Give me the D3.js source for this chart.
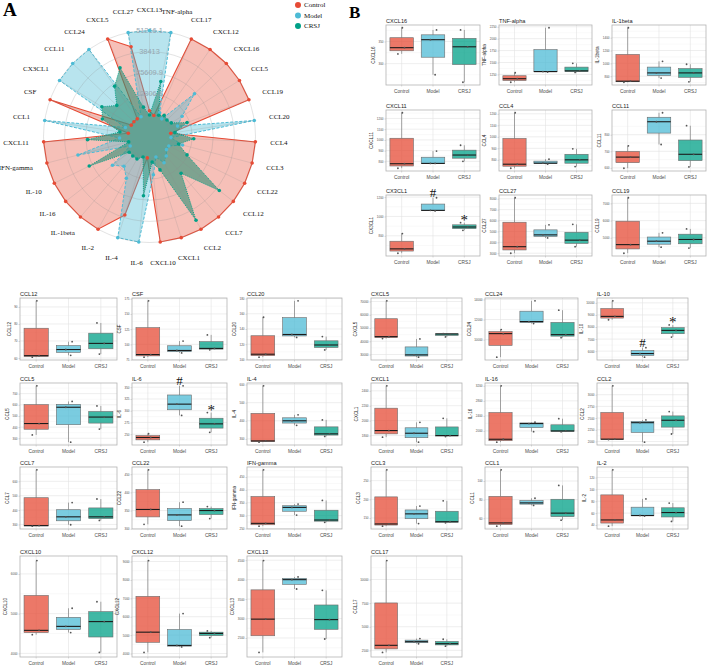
<!DOCTYPE html>
<html>
<head>
<meta charset="utf-8">
<script src="https://cdn.jsdelivr.net/npm/d3@7"></script>
<style>
  body { margin: 0; background: #fff; }
  svg { display: block; }
</style>
</head>
<body>
<svg id="fig" width="708" height="667"></svg>
<script>
// groups and colours (npg palette)
const groups = ['Control', 'Model', 'CRSJ']
const groupColors = ['#E64B35', '#4DBBD5', '#00A087']

// ---- panel A: radar, values scaled 0..1 per axis ----
const radarAxes = ['CXCL13', 'TNF-alpha', 'CCL17', 'CXCL12', 'CXCL16', 'CCL5', 'CCL19', 'CCL20', 'CCL4', 'CCL3',
  'CCL22', 'CCL12', 'CCL7', 'CCL2', 'CXCL1', 'CXCL10', 'IL-6', 'IL-4', 'IL-2', 'IL-1beta', 'IL-16', 'IL-10',
  'IFN-gamma', 'CXCL11', 'CCL1', 'CSF', 'CX3CL1', 'CCL11', 'CCL24', 'CXCL5', 'CCL27']
const radarControl = [0.05, 0, 1, 1, 1, 1, 1, 0, 1, 1, 1, 1, 1, 1, 1, 1, 0, 0.72, 1, 1, 1, 1, 1, 1, 0, 1, 0, 0, 0, 1, 0.83]
const radarModel = [1, 1, 0.05, 0, 0.48, 0.2, 0.1, 1, 0, 0.15, 0, 0, 0.05, 0.1, 0, 0.2, 1, 1, 0.31, 0.21, 0.3, 0, 0.62, 0.1, 1, 0.05, 1, 1, 1, 0, 1]
const radarCRSJ = [0, 0.41, 0.02, 0.05, 0.03, 0.05, 0.22, 0.05, 0.27, 0.1, 0.24, 0.79, 0.32, 0.88, 0.16, 0.05, 0.45, 0, 0.05, 0.05, 0.05, 0.54, 0, 0.48, 0.1, 0.34, 0.41, 0.28, 0.47, 0.63, 0.1]
const radarRingLabels = ['12806.8', '25609.9', '38413', '51216.1']

// ---- boxplots: three replicate values per group ----
const panelNames = ['CXCL16', 'TNF-alpha', 'IL-1beta', 'CXCL11', 'CCL4', 'CCL11', 'CX3CL1', 'CCL27', 'CCL19',
  'CCL12', 'CSF', 'CCL20', 'CXCL5', 'CCL24', 'IL-10',
  'CCL5', 'IL-6', 'IL-4', 'CXCL1', 'IL-16', 'CCL2',
  'CCL7', 'CCL22', 'IFN-gamma', 'CCL3', 'CCL1', 'IL-2',
  'CXCL10', 'CXCL12', 'CXCL13', 'CCL17']

const panelTicks = [
  [300, 350], [1250, 1500, 1750, 2000, 2250], [800, 1000, 1200, 1400],
  [800, 900, 1000, 1100, 1200], [800, 900, 1000, 1100, 1200], [600, 700, 800],
  [800, 1000, 1200], [3000, 4000, 5000, 6000, 7000, 8000], [5000, 6000, 7000],
  [60, 70, 80, 90], [75, 100, 125, 150, 175], [100, 120, 140, 160, 180],
  [30000, 40000, 50000, 60000, 70000], [10000, 12000, 14000], [6000, 7000, 8000, 9000, 10000],
  [300, 400, 500, 600, 700, 800], [250, 275, 300, 325, 350], [300, 400, 500, 600],
  [1800, 2000, 2200, 2400], [2000, 2400, 2800, 3200], [2000, 2250, 2500, 2750, 3000],
  [300, 400, 500, 600], [300, 350, 400, 450], [250, 300, 350, 400, 450],
  [150, 200, 250], [60, 80, 100], [40, 60, 80, 100, 120],
  [4000, 5000, 6000], [4000, 5000, 6000, 7000, 8000, 9000], [2500, 3000, 3500, 4000, 4500], [2500, 5000, 7500, 10000]
]

const valuesControl = [
  [322, 336, 381], [1085, 1160, 1285], [705, 722, 1555], [736, 778, 1253], [727, 762, 1209], [598, 665, 733],
  [620, 665, 823], [3000, 3600, 8090], [4100, 4600, 7326],
  [60.5, 61.4, 93.6], [79, 83.3, 171.5], [103, 106.9, 155.4], [42000, 43500, 70500], [8260, 10600, 11000], [8600, 8880, 10170],
  [330, 432, 770], [233, 243, 251], [282, 289, 593], [1778, 1867, 2467], [1700, 1778, 3200], [2040, 2050, 3190],
  [288, 292, 680], [312, 353, 462], [259, 270, 478], [128, 134, 279], [51.5, 55, 112], [38, 48.5, 133],
  [4470, 4580, 6335], [4060, 5160, 9050], [2130, 2985, 4490], [2286, 3036, 12000]
]
const valuesModel = [
  [275, 354, 376], [1300, 1310, 2230], [770, 851, 1032], [781, 781, 896], [762, 771, 806], [741, 878, 932],
  [1057, 1063, 1193], [4400, 4685, 5605], [4450, 4800, 5286],
  [61.6, 65, 69.6], [86, 90, 105.5], [129, 132.8, 177], [28000, 29750, 41750], [11600, 11800, 13860], [5500, 5800, 6290],
  [265, 578, 630], [290, 314, 353], [375, 400, 433], [1711, 1831, 1977], [1980, 2195, 2230], [1985, 2402, 2460],
  [298, 353, 452], [307, 338, 373], [302, 332, 345], [135, 161, 182], [73.8, 76.5, 81.5], [55, 56, 84],
  [4525, 4680, 5136], [4360, 4440, 6170], [3760, 4000, 4070], [3200, 3423, 3750]
]
const valuesCRSJ = [
  [258, 338, 376], [1292, 1325, 1482], [712, 851, 986], [800, 859, 950], [741, 800, 896], [606, 682, 854],
  [857, 891, 936], [3600, 4200, 5650], [4400, 4900, 5514],
  [62.3, 68.6, 80.6], [91, 93.4, 115.6], [112.5, 119, 130], [43300, 45500, 45800], [10200, 10500, 12930], [7170, 7720, 8170],
  [382, 490, 590], [254, 272, 296], [314, 328, 405], [1787, 1800, 2031], [1975, 2000, 2325], [2160, 2454, 2640],
  [328, 353, 477], [328, 350, 361], [274, 283, 359], [137, 140, 196], [58, 65.5, 95.3], [46, 61, 77],
  [4025, 4800, 5300], [4860, 5090, 5230], [2475, 2973, 3725], [2950, 3210, 3680]
]

// significance marks: panel, group, symbol
const sigMarks = [
  ['CX3CL1', 'Model', '#'], ['CX3CL1', 'CRSJ', '*'],
  ['IL-6', 'Model', '#'], ['IL-6', 'CRSJ', '*'],
  ['IL-10', 'Model', '#'], ['IL-10', 'CRSJ', '*']
]

const sans = 'Liberation Sans, Arial, sans-serif'
const serif = 'Liberation Serif, Times New Roman, serif'
const svg = d3.select('#fig')

// panel letters
svg.append('text').attr('x', 3).attr('y', 16).text('A').attr('fill', '#000')
  .attr('font-family', serif).attr('font-weight', 'bold').attr('font-size', 19)
svg.append('text').attr('x', 349).attr('y', 17.5).text('B').attr('fill', '#000')
  .attr('font-family', serif).attr('font-weight', 'bold').attr('font-size', 17)

// ---------- radar ----------
const cx = 149.5
const cy = 136.5
const r0 = 21.5
const R = 106
const angle = d3.scaleLinear().domain([0, radarAxes.length]).range([0, 2 * Math.PI])
const radius = d3.scaleLinear().domain([0, 1]).range([r0, R])
const gA = svg.append('g').attr('transform', `translate(${cx},${cy})`)

const radarSeries = [radarControl, radarModel, radarCRSJ]
const radarFills = ['#E64B35', '#4DBBD5', '#2f8f75']
const fillOpacity = [0.35, 0.4, 0.6]
const dashes = [null, '3,1.6', '1,1.2']
const radial = d3.lineRadial()
  .angle((d, i) => angle(i))
  .radius(d => radius(d))
  .curve(d3.curveLinearClosed)

radarSeries.forEach((vals, k) => {
  gA.append('path')
    .attr('d', radial(vals))
    .attr('fill', radarFills[k])
    .attr('fill-opacity', fillOpacity[k])
    .attr('stroke', groupColors[k])
    .attr('stroke-width', k === 0 ? 1.1 : 1)
    .attr('stroke-dasharray', dashes[k])
})

// grid over the fills, semi transparent
gA.selectAll('circle.ring')
  .data(d3.range(5))
  .join('circle')
  .attr('class', 'ring')
  .attr('r', k => radius(k / 4))
  .attr('fill', 'none')
  .attr('stroke', '#8a8a8a')
  .attr('stroke-opacity', 0.35)
  .attr('stroke-width', 0.7)

gA.selectAll('line.spoke')
  .data(radarAxes)
  .join('line')
  .attr('class', 'spoke')
  .attr('x1', (d, i) => r0 * Math.sin(angle(i)))
  .attr('y1', (d, i) => -r0 * Math.cos(angle(i)))
  .attr('x2', (d, i) => R * Math.sin(angle(i)))
  .attr('y2', (d, i) => -R * Math.cos(angle(i)))
  .attr('stroke', '#8a8a8a')
  .attr('stroke-opacity', 0.35)
  .attr('stroke-width', 0.6)

gA.selectAll('text.ringlab')
  .data(radarRingLabels)
  .join('text')
  .attr('class', 'ringlab')
  .attr('x', 0)
  .attr('y', (d, k) => -radius((k + 1) / 4))
  .attr('text-anchor', 'middle')
  .attr('dominant-baseline', 'central')
  .attr('font-family', sans)
  .attr('font-size', 7.4)
  .attr('fill', '#95a6b0')
  .text(d => d)

radarSeries.forEach((vals, k) => {
  gA.selectAll(null)
    .data(vals)
    .join('circle')
    .attr('cx', (d, i) => radius(d) * Math.sin(angle(i)))
    .attr('cy', (d, i) => -radius(d) * Math.cos(angle(i)))
    .attr('r', 1.8)
    .attr('fill', groupColors[k])
})

gA.selectAll('text.axlab')
  .data(radarAxes)
  .join('text')
  .attr('class', 'axlab')
  .attr('text-anchor', 'middle')
  .attr('dominant-baseline', 'central')
  .attr('font-family', serif)
  .attr('font-size', 7)
  .attr('fill', '#111')
  .text(d => d)
  .each(function (d, i) {
    const a = angle(i)
    const w = this.getComputedTextLength()
    d3.select(this)
      .attr('x', (121 + w / 2) * Math.sin(a))
      .attr('y', -127 * Math.cos(a))
  })

// legend
const legend = svg.append('g').attr('transform', 'translate(298,5)')
groups.forEach((g, k) => {
  legend.append('circle').attr('cx', 0).attr('cy', k * 10.5).attr('r', 3).attr('fill', groupColors[k])
  legend.append('text').attr('x', 6).attr('y', k * 10.5).attr('dominant-baseline', 'central')
    .attr('font-family', serif).attr('font-size', 7).attr('fill', '#111').text(g)
})

// ---------- boxplots ----------
const layoutB = { cols: [[386, 480], [499, 592], [612, 706]], rows: [[25, 85], [110, 171], [195, 256]] }
const layoutC = {
  cols: [[20, 117], [132, 227], [247, 342], [371, 462], [485, 578], [597, 688]],
  rows: [[298, 360], [383, 445], [467, 529], [556, 657]]
}
const jitter = [[-0.16, 0.12, 0.03], [0.09, -0.11, 0.15], [-0.06, 0.14, -0.16]]

function panelRect (i) {
  let col, row, lay
  if (i < 9) {
    lay = layoutB; col = i % 3; row = Math.floor(i / 3)
  } else {
    lay = layoutC; col = (i - 9) % 6; row = Math.floor((i - 9) / 6)
  }
  return { x0: lay.cols[col][0], x1: lay.cols[col][1], y0: lay.rows[row][0], y1: lay.rows[row][1] }
}

function drawBox (i) {
  const p = panelRect(i)
  const vals = [valuesControl[i], valuesModel[i], valuesCRSJ[i]]
  const [mn, mx] = d3.extent(vals.flat())
  const pad = (mx - mn) * 0.05
  const y = d3.scaleLinear().domain([mn - pad, mx + pad]).range([p.y1, p.y0])
  const x = d3.scaleBand().domain(groups).range([p.x0, p.x1]).paddingInner(0.25).paddingOuter(0.125)
  const [d0, d1] = y.domain()
  const ticks = panelTicks[i].filter(t => t >= d0 && t <= d1)
  const step = panelTicks[i][1] - panelTicks[i][0]
  const minor = d3.range(panelTicks[i][0] - step * 1.5, d1, step).filter(t => t >= d0 && t <= d1)
  const g = svg.append('g')

  // grid
  g.selectAll(null).data(minor).join('line')
    .attr('x1', p.x0).attr('x2', p.x1).attr('y1', d => y(d)).attr('y2', d => y(d))
    .attr('stroke', '#f0f0f0').attr('stroke-width', 0.4)
  g.selectAll(null).data(ticks).join('line')
    .attr('x1', p.x0).attr('x2', p.x1).attr('y1', d => y(d)).attr('y2', d => y(d))
    .attr('stroke', '#e2e2e2').attr('stroke-width', 0.6)
  g.selectAll(null).data(groups).join('line')
    .attr('x1', d => x(d) + x.bandwidth() / 2).attr('x2', d => x(d) + x.bandwidth() / 2)
    .attr('y1', p.y0).attr('y2', p.y1)
    .attr('stroke', '#e2e2e2').attr('stroke-width', 0.6)

  // boxes
  groups.forEach((gname, k) => {
    const v = vals[k].slice().sort(d3.ascending)
    const q1 = d3.quantile(v, 0.25)
    const med = d3.quantile(v, 0.5)
    const q3 = d3.quantile(v, 0.75)
    const xc = x(gname) + x.bandwidth() / 2
    g.append('line').attr('x1', xc).attr('x2', xc).attr('y1', y(v[0])).attr('y2', y(q1))
      .attr('stroke', '#6b6b6b').attr('stroke-width', 0.6)
    g.append('line').attr('x1', xc).attr('x2', xc).attr('y1', y(q3)).attr('y2', y(v[2]))
      .attr('stroke', '#6b6b6b').attr('stroke-width', 0.6)
    g.append('rect')
      .attr('x', x(gname)).attr('width', x.bandwidth())
      .attr('y', y(q3)).attr('height', Math.max(0.5, y(q1) - y(q3)))
      .attr('fill', groupColors[k]).attr('fill-opacity', 0.75)
      .attr('stroke', '#6b6b6b').attr('stroke-width', 0.6)
    g.append('line').attr('x1', x(gname)).attr('x2', x(gname) + x.bandwidth())
      .attr('y1', y(med)).attr('y2', y(med))
      .attr('stroke', '#1a1a1a').attr('stroke-width', 1.1)
    g.selectAll(null).data(v).join('circle')
      .attr('cx', (d, j) => xc + jitter[k][j] * x.bandwidth())
      .attr('cy', d => y(d))
      .attr('r', 0.9)
      .attr('fill', '#555')
  })

  // border
  g.append('rect').attr('x', p.x0).attr('y', p.y0).attr('width', p.x1 - p.x0).attr('height', p.y1 - p.y0)
    .attr('fill', 'none').attr('stroke', '#b3b3b3').attr('stroke-width', 0.8)

  // axes
  const ya = g.append('g').attr('transform', `translate(${p.x0},0)`)
    .call(d3.axisLeft(y).tickValues(ticks).tickSize(1.5).tickPadding(1).tickFormat(d => String(d)))
    .attr('font-size', 3).attr('font-family', sans)
  ya.select('.domain').remove()
  ya.selectAll('line').attr('stroke', '#b3b3b3').attr('stroke-width', 0.5)
  ya.selectAll('text').attr('fill', '#4d4d4d')

  const xa = g.append('g').attr('transform', `translate(0,${p.y1})`)
    .call(d3.axisBottom(x).tickSize(1.5).tickPadding(3.2))
    .attr('font-size', 4.8).attr('font-family', sans)
  xa.select('.domain').remove()
  xa.selectAll('line').attr('stroke', '#b3b3b3').attr('stroke-width', 0.5)
  xa.selectAll('text').attr('fill', '#4d4d4d')

  const maxChars = d3.max(ticks, t => String(t).length)
  g.append('text')
    .attr('transform', `translate(${p.x0 - 6 - maxChars * 1.67},${(p.y0 + p.y1) / 2}) rotate(-90)`)
    .attr('text-anchor', 'middle')
    .attr('font-family', sans).attr('font-size', 4.6).attr('fill', '#1a1a1a')
    .text(panelNames[i])

  g.append('text')
    .attr('x', p.x0).attr('y', p.y0 - 2.5)
    .attr('font-family', sans).attr('font-size', 5.6).attr('fill', '#1a1a1a')
    .text(panelNames[i])

  sigMarks.filter(m => m[0] === panelNames[i]).forEach(m => {
    const k = groups.indexOf(m[1])
    const top = d3.max(vals[k])
    g.append('text')
      .attr('x', x(m[1]) + x.bandwidth() / 2)
      .attr('y', y(top) + (m[2] === '*' ? 2 : -1))
      .attr('text-anchor', 'middle')
      .attr('font-family', serif).attr('font-size', m[2] === '*' ? 15 : 13).attr('fill', '#111')
      .text(m[2])
  })
}

panelNames.forEach((d, i) => drawBox(i))
</script>
</body>
</html>
